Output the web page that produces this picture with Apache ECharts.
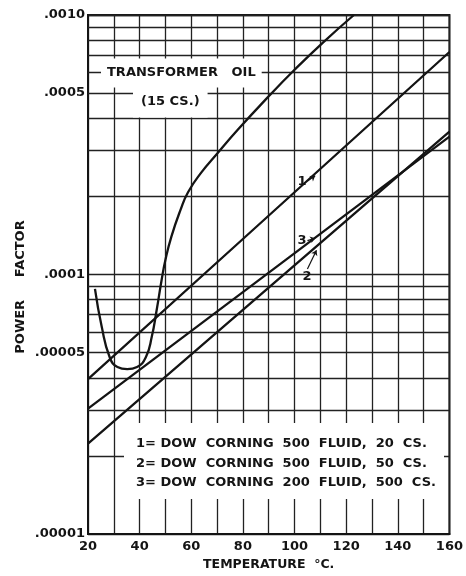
<!DOCTYPE html>
<html><head><meta charset="utf-8">
<script src="https://cdn.jsdelivr.net/npm/echarts@6/dist/echarts.min.js"></script>
<style>html,body{margin:0;padding:0;background:#fff}#chart{width:466px;height:576px}</style>
</head><body><div id="chart"></div>
<script>
const FONT = '"DejaVu Sans", sans-serif';
const INK = '#141414';

// Transformer oil (15 cs): temperature (°C) and power factor
const oilTemp = [22.7, 25.3, 28.4, 31.4, 35.2, 39, 42.4, 44.7, 46.6, 48.5, 50, 52.3, 55.8, 58.8, 64, 70, 78, 90, 100, 111, 123];
const oilPF   = [8.8e-5, 6.3e-5, 4.8e-5, 4.4e-5, 4.32e-5, 4.4e-5, 4.8e-5, 5.75e-5, 7.3e-5, 9.5e-5, 1.14e-4, 1.4e-4, 1.77e-4, 2.08e-4, 2.48e-4, 2.92e-4, 3.61e-4, 4.86e-4, 6.15e-4, 7.83e-4, 1.0e-3];

// Dow Corning fluids (straight lines on the log scale)
const fluidTemp = [20, 80, 160];
const fluid1PF  = [3.95e-5, 1.37e-4, 7.2e-4];   // 1 = 500 fluid, 20 cs
const fluid2PF  = [2.23e-5, 7.3e-5, 3.55e-4];   // 2 = 500 fluid, 50 cs
const fluid3PF  = [3.04e-5, 8.55e-5, 3.40e-4];  // 3 = 200 fluid, 500 cs

// Axis ranges and tick labels
const xMin = 20, xMax = 160, xStep = 20;
const yMin = 1e-5, yMax = 1e-3;
const yTickValues = [1e-5, 5e-5, 1e-4, 5e-4, 1e-3];
const yTickLabels = ['.00001', '.00005', '.0001', '.0005', '.0010'];
// Intermediate horizontal rulings within each decade
const yRulings = [2e-5, 3e-5, 4e-5, 5e-5, 6e-5, 7e-5, 8e-5, 9e-5,
                  2e-4, 3e-4, 4e-4, 5e-4, 6e-4, 7e-4, 8e-4, 9e-4];

const legendLines = [
  '1= DOW  CORNING  500  FLUID,  20  CS.',
  '2= DOW  CORNING  500  FLUID,  50  CS.',
  '3= DOW  CORNING  200  FLUID,  500  CS.'
];

// Curve-number callouts: [label, start T, start PF, tip T, tip PF, curveness]
const callouts = [
  ['1', 105, 2.29e-4, 108, 2.40e-4, 0],
  ['3', 105, 1.35e-4, 108, 1.38e-4, 0],
  ['2', 105, 1.05e-4, 108.5, 1.24e-4, -0.35]
];

const toPairs = (xs, ys) => xs.map((x, i) => [x, ys[i]]);
const labelFor = v => {
  const i = yTickValues.findIndex(t => Math.abs(Math.log10(t) - Math.log10(v)) < 1e-6);
  return i >= 0 ? yTickLabels[i] : '';
};
const tickFont = { color: INK, fontFamily: FONT, fontWeight: 'bold', fontSize: 13 };
const RULE = { color: '#222', width: 1.3, type: 'solid' };

function calloutLine(c) {
  return {
    silent: true,
    symbol: ['none', 'arrow'],
    symbolSize: 5,
    precision: 10,
    lineStyle: { color: INK, width: 1.2, type: 'solid', curveness: c[5] },
    label: { show: true, position: 'start', distance: 1, formatter: c[0], ...tickFont },
    data: [[{ coord: [c[1], c[2]] }, { coord: [c[3], c[4]] }]]
  };
}

function curve(name, data, extra) {
  return Object.assign({
    name, type: 'line', data, z: 5,
    showSymbol: false, symbol: 'none',
    lineStyle: { color: INK, width: 2.3 },
    animation: false
  }, extra || {});
}

const chart = echarts.init(document.getElementById('chart'), null, { renderer: 'canvas' });
chart.setOption({
  backgroundColor: '#fff',
  animation: false,
  grid: { left: 88, right: 10, top: 15, bottom: 42, show: true, borderColor: INK, borderWidth: 2, backgroundColor: 'transparent' },
  xAxis: {
    type: 'value', min: xMin, max: xMax, interval: xStep,
    name: 'TEMPERATURE  °C.', nameLocation: 'middle', nameGap: 24,
    nameTextStyle: { color: INK, fontFamily: FONT, fontWeight: 'bold', fontSize: 12.5 },
    axisLine: { show: true, lineStyle: { color: INK, width: 2 } },
    axisTick: { show: false },
    axisLabel: { margin: 6, ...tickFont },
    splitLine: { show: true, lineStyle: RULE },
    minorTick: { show: false, splitNumber: 2 },
    minorSplitLine: { show: true, lineStyle: RULE }
  },
  yAxis: {
    type: 'log', logBase: 10, min: yMin, max: yMax,
    axisLine: { show: true, lineStyle: { color: INK, width: 2 } },
    axisTick: { show: false },
    axisLabel: { margin: 3, formatter: v => labelFor(v), ...tickFont },
    splitLine: { show: true, lineStyle: RULE }
  },
  series: [
    {
      // carrier for the intermediate horizontal rulings (its own line is invisible)
      name: 'rulings', type: 'line', z: 1, silent: true,
      data: toPairs(fluidTemp, fluid1PF),
      showSymbol: false, symbol: 'none',
      lineStyle: { opacity: 0, width: 0 },
      markLine: {
        z: 1,
        silent: true, symbol: 'none', animation: false,
        precision: 10,
        lineStyle: RULE,
        label: {
          show: true, position: 'start', distance: 3,
          formatter: p => labelFor(p.value), ...tickFont
        },
        data: yRulings.map(v => ({ yAxis: v }))
      }
    },
    curve('TRANSFORMER OIL (15 CS.)', toPairs(oilTemp, oilPF), { smooth: 0.5 }),
    curve('1', toPairs(fluidTemp, fluid1PF), { markLine: calloutLine(callouts[0]) }),
    curve('3', toPairs(fluidTemp, fluid3PF), { markLine: calloutLine(callouts[1]) }),
    curve('2', toPairs(fluidTemp, fluid2PF), { markLine: calloutLine(callouts[2]) })
  ],
  graphic: {
    elements: [
      { type: 'rect', z: 3, shape: { x: 124, y: 423, width: 320, height: 76 }, style: { fill: '#fff' } },
      ...legendLines.map((t, i) => ({
        type: 'text', z: 6, x: 136, y: 444 + i * 19.5,
        style: { text: t, fill: INK, font: 'bold 13px ' + FONT, verticalAlign: 'middle' }
      })),
      {
        type: 'text', z: 3, x: 101, y: 73,
        style: { text: 'TRANSFORMER   OIL', fill: INK, font: 'bold 13px ' + FONT, verticalAlign: 'middle',
                 backgroundColor: '#fff', padding: [8, 6, 8, 6] }
      },
      {
        type: 'text', z: 3, x: 133, y: 102,
        style: { text: '(15 CS.)', fill: INK, font: 'bold 13px ' + FONT, verticalAlign: 'middle',
                 backgroundColor: '#fff', padding: [9, 8, 9, 8] }
      },
      {
        type: 'text', z: 6, x: 21, y: 287, rotation: Math.PI / 2,
        style: { text: 'POWER     FACTOR', fill: INK, font: 'bold 13px ' + FONT, align: 'center', verticalAlign: 'middle' }
      }
    ]
  }
});
</script>
</body></html>
